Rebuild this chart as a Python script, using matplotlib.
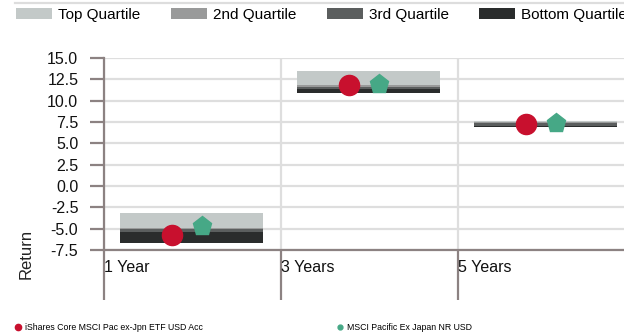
import matplotlib
matplotlib.use('Agg')
import matplotlib.pyplot as plt
from matplotlib.lines import Line2D
import numpy as np

plt.rcParams['font.family'] = ['Liberation Sans', 'DejaVu Sans']

# data
periods = ['1 Year', '3 Years', '5 Years']
q_top = [-3.2, 13.45, 7.62]      # top of the top quartile
q_upper = [-4.89, 11.87, 7.46]   # top / 2nd quartile boundary
q_median = [-5.07, 11.64, 7.35]  # 2nd / 3rd quartile boundary
q_lower = [-5.36, 11.40, 7.07]   # 3rd / bottom quartile boundary
q_bottom = [-6.71, 10.90, 6.88]  # bottom of the bottom quartile
fund = [-5.74, 11.80, 7.23]
benchmark = [-4.65, 11.95, 7.42]

quartile_labels = ['Top Quartile', '2nd Quartile', '3rd Quartile', 'Bottom Quartile']
quartile_colors = ['#c3c9c8', '#999a9a', '#5b5e5e', '#2a2c2c']
fund_name = 'iShares Core MSCI Pac ex-Jpn ETF USD Acc'
bench_name = 'MSCI Pacific Ex Japan NR USD'
red = '#c8102e'
green = '#46a886'
axis_col = '#8c8282'
grid_col = '#dedede'

W, H = 624, 334
fig = plt.figure(figsize=(W / 100, H / 100), dpi=100)
ax = fig.add_axes([104 / W, 84 / H, 520 / W, 192 / H])

x = np.arange(len(periods))
bar_x = x + 0.495
bar_w = 0.81

# stacked quartile bands, drawn from top band downwards
edges = [q_top, q_upper, q_median, q_lower, q_bottom]
bars = []
for i in range(4):
    top = np.array(edges[i])
    bot = np.array(edges[i + 1])
    b = ax.bar(bar_x, top - bot, bottom=bot, width=bar_w,
               color=quartile_colors[i], label=quartile_labels[i], zorder=2)
    bars.append(b)

ax.plot(x + 0.385, fund, 'o', color=red, markersize=14.5, zorder=4, linestyle='none')
ax.plot(x + 0.555, benchmark, 'p', color=green, markersize=14, zorder=4, linestyle='none')

ax.set_xlim(0, 520 / 177)
ax.set_ylim(-7.5, 15)
ax.set_yticks(np.arange(-7.5, 15.1, 2.5))
ax.set_yticklabels(['%.1f' % v for v in np.arange(-7.5, 15.1, 2.5)])
ax.set_xticks(x)
ax.set_xticklabels(periods)
for lbl in ax.get_xticklabels():
    lbl.set_ha('left')

ax.set_axisbelow(True)
ax.grid(True, color=grid_col, linewidth=1.6)
for s in ['top', 'right']:
    ax.spines[s].set_visible(False)
for s in ['left', 'bottom']:
    ax.spines[s].set_color(axis_col)
    ax.spines[s].set_linewidth(1.6)

ax.tick_params(axis='y', length=10, width=1.6, color=axis_col, pad=8.5,
               labelsize=11.5, labelcolor='#111111')
ax.tick_params(axis='x', length=36, width=1.6, color=axis_col, pad=-29,
               labelsize=11.5, labelcolor='#111111')

fig.text(26 / W, 1 - 254 / H, 'Return', rotation=90, ha='center', va='center',
         fontsize=12, color='#222222')

# top legend
fig.add_artist(Line2D([15 / W, 1], [1 - 3 / H, 1 - 3 / H], color='#dddddd',
                      linewidth=1.6, transform=fig.transFigure))
fig.legend(handles=bars, loc='upper left', bbox_to_anchor=(16 / W, 1 - 8 / H),
           ncol=4, frameon=False, fontsize=11, borderpad=0, borderaxespad=0,
           handlelength=2.35, handleheight=0.72, handletextpad=0.4,
           columnspacing=2.0)

# bottom legend
small_font = {'family': ['Liberation Sans Narrow', 'Liberation Sans'], 'size': 6.3}
h1 = Line2D([], [], marker='o', color=red, markersize=4.5, linestyle='none')
h2 = Line2D([], [], marker='o', color=green, markersize=3.5, linestyle='none')
fig.legend(handles=[h1], labels=[fund_name], loc='center left',
           bbox_to_anchor=(14 / W, 1 - 328 / H), frameon=False, prop=small_font,
           borderpad=0, borderaxespad=0, handlelength=0.9, handletextpad=0.4)
fig.legend(handles=[h2], labels=[bench_name], loc='center left',
           bbox_to_anchor=(336 / W, 1 - 328 / H), frameon=False, prop=small_font,
           borderpad=0, borderaxespad=0, handlelength=0.9, handletextpad=0.4)

fig.savefig('out.png', dpi=100)
